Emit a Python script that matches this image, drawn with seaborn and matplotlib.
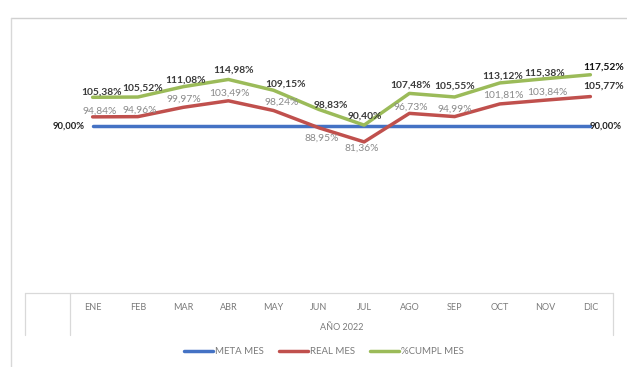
import matplotlib
matplotlib.use("Agg")
import matplotlib.pyplot as plt
from matplotlib.lines import Line2D
import seaborn as sns
import pandas as pd

# Monthly indicators for 2022 (percent)
months = ["ENE", "FEB", "MAR", "ABR", "MAY", "JUN", "JUL", "AGO", "SEP", "OCT", "NOV", "DIC"]
meta_mes = [90.00] * 12
real_mes = [94.84, 94.96, 99.97, 103.49, 98.24, 88.95, 81.36, 96.73, 94.99, 101.81, 103.84, 105.77]
cumpl_mes = [105.38, 105.52, 111.08, 114.98, 109.15, 98.83, 90.40, 107.48, 105.55, 113.12, 115.38, 117.52]
series_names = ["META MES", "REAL MES", "%CUMPL MES"]
axis_title = "AÑO 2022"

# Label placement (pixel offsets from each point)
real_dx = [7, 2, 1, 1, 8, 3, -2, 1, 0, 4, 2, 13]
real_dy = [6, 6, 8, 8, 8, -10, -6, 6, 7, 9, 8, 10]
cumpl_dx = [9, 5, 2, 5, 12, 12, 1, 1, 0, 3, -1, 13]
cumpl_dy = [5, 9, 7, 9, 6, 4, 9, 8, 11, 7, 6, 8]

colors = {"META MES": "#4472C4", "REAL MES": "#C0504D", "%CUMPL MES": "#9BBB59"}

df = pd.DataFrame({
    "mes": months * 3,
    "valor": meta_mes + real_mes + cumpl_mes,
    "serie": [series_names[0]] * 12 + [series_names[1]] * 12 + [series_names[2]] * 12,
})

sns.set_theme(style="white")
plt.rcParams["font.family"] = ["Lato", "DejaVu Sans"]

W, H = 627, 367
fig = plt.figure(figsize=(W / 100, H / 100), dpi=100)
ax = fig.add_axes([70 / W, 74 / H, 543 / W, 260 / H])

sns.lineplot(data=df, x="mes", y="valor", hue="serie", palette=colors,
             linewidth=2.5, ax=ax, legend=False, sort=False)

ax.set_xlim(-0.5, 11.5)
ax.set_ylim(0, 140)
for s in ax.spines.values():
    s.set_visible(False)
ax.set_xticks([])
ax.set_yticks([])
ax.set_xlabel("")
ax.set_ylabel("")
ax.patch.set_alpha(0)

# Data labels
for i, v in enumerate(cumpl_mes):
    last = i == len(cumpl_mes) - 1
    ax.annotate(f"{v:.2f}%".replace(".", ","), (i, v),
                xytext=(cumpl_dx[i], cumpl_dy[i]), textcoords="offset pixels",
                ha="center", va="center", fontsize=7.4,
                color="#111111" if last else "#3a3a3a", fontweight="bold")
for i, v in enumerate(real_mes):
    last = i == len(real_mes) - 1
    ax.annotate(f"{v:.2f}%".replace(".", ","), (i, v),
                xytext=(real_dx[i], real_dy[i]), textcoords="offset pixels",
                ha="center", va="center", fontsize=7.4,
                color="#333333" if last else "#8a8a8a",
                fontweight="bold" if last else "normal")
for i, dx, ha in [(0, -8, "right"), (11, -1, "left")]:
    ax.annotate(f"{meta_mes[i]:.2f}%".replace(".", ","), (i, meta_mes[i]),
                xytext=(dx, 0), textcoords="offset pixels",
                ha=ha, va="center", fontsize=6.8, color="#222222",
                fontweight="bold")

# Category axis: month names and group title
for i, m in enumerate(months):
    ax.text(i, -14 / 260 * 140, m, ha="center", va="center",
            fontsize=6.5, color="#7a7a7a")
fig.text(341.5 / W, 1 - 328 / H, axis_title, ha="center", va="center",
         fontsize=6.5, color="#7a7a7a")

def fig_line(x0, y0, x1, y1, color="#d9d9d9", lw=0.9):
    fig.add_artist(Line2D([x0 / W, x1 / W], [1 - y0 / H, 1 - y1 / H],
                          color=color, lw=lw, transform=fig.transFigure))

# Outer chart frame
fig_line(11, 18, W, 18, color="#d0d0d0", lw=1.0)
fig_line(11, 18, 11, H, color="#d8d8d8", lw=1.0)
# Category axis box
fig_line(25, 293, 613, 293, color="#d9d9d9")
fig_line(25, 293, 25, 335)
fig_line(70, 293, 70, 335)
fig_line(613, 293, 613, 335)

# Legend
handles = [Line2D([0], [0], color=colors[n], lw=2.5) for n in series_names]
leg = fig.legend(handles, series_names, loc="center", bbox_to_anchor=(324 / W, 1 - 352 / H),
                 ncol=3, frameon=False, fontsize=6.9, handlelength=3.0,
                 handletextpad=0.2, columnspacing=1.6, labelcolor="#7a7a7a")

fig.savefig("out.png", dpi=100, facecolor="white")
